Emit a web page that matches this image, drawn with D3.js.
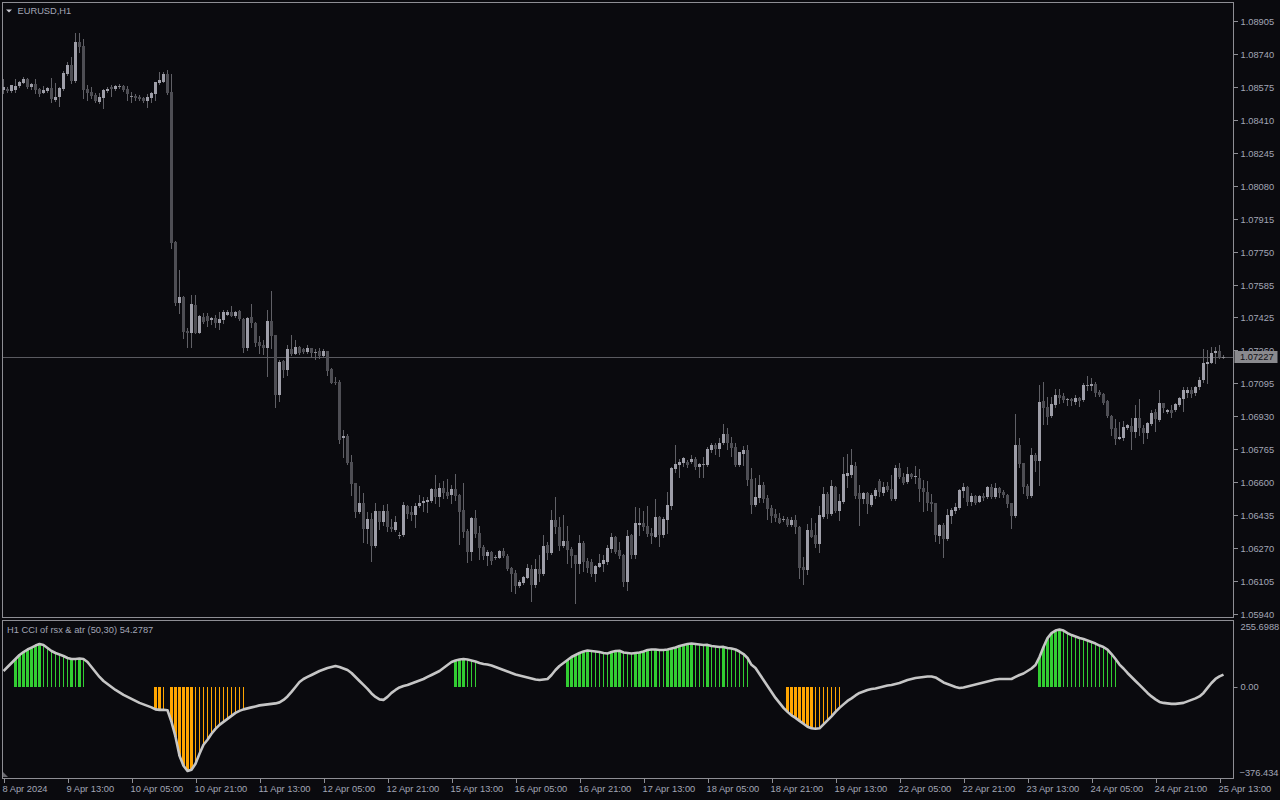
<!DOCTYPE html>
<html><head><meta charset="utf-8">
<script src="https://cdn.jsdelivr.net/npm/d3@7"></script>
<style>
html,body{margin:0;padding:0;background:#0a0a0e;overflow:hidden;}
svg{display:block;}
text{font-family:"Liberation Sans",Arial,sans-serif;font-size:9.3px;}
</style></head><body>
<svg id="c" width="1280" height="800"></svg>
<script>
// ---- EURUSD H1 candles (8 Apr 21:00 .. 25 Apr 14:00) ----
const open=[
1.08562,1.08567,1.08557,1.08562,1.08582,1.08597,1.08617,1.08577,1.08592,1.08567,
1.08547,1.08557,1.08572,1.08512,1.08527,1.08567,1.08642,1.08687,1.08607,1.08802,
1.08782,1.08567,1.08552,1.08537,1.08502,1.08522,1.08557,1.08577,1.08567,1.08582,
1.08582,1.08567,1.08532,1.08532,1.08527,1.08522,1.08507,1.08522,1.08542,1.08597,
1.08602,1.08642,1.08552,1.07802,1.07497,1.07527,1.07357,1.07347,1.07487,1.07347,
1.07427,1.07432,1.07412,1.07422,1.07397,1.07412,1.07437,1.07452,1.07432,1.07457,
1.07417,1.07272,1.07427,1.07397,1.07302,1.07287,1.07272,1.07407,1.07337,1.07037,
1.07207,1.07162,1.07267,1.07242,1.07277,1.07267,1.07252,1.07272,1.07252,1.07257,
1.07232,1.07257,1.07167,1.07102,1.07102,1.06822,1.06832,1.06702,1.06597,1.06452,
1.06497,1.06367,1.06417,1.06282,1.06457,1.06402,1.06457,1.06377,1.06362,1.06337,
1.06337,1.06482,1.06452,1.06437,1.06482,1.06497,1.06502,1.06507,1.06567,1.06527,
1.06572,1.06552,1.06537,1.06567,1.06537,1.06462,1.06357,1.06252,1.06422,1.06347,
1.06277,1.06232,1.06252,1.06227,1.06222,1.06257,1.06232,1.06172,1.06147,1.06082,
1.06097,1.06122,1.06167,1.06087,1.06167,1.06142,1.06287,1.06247,1.06412,1.06377,
1.06282,1.06307,1.06267,1.06237,1.06192,1.06297,1.06207,1.06202,1.06142,1.06177,
1.06192,1.06202,1.06267,1.06327,1.06262,1.06237,1.06102,1.06337,1.06237,1.06387,
1.06397,1.06382,1.06347,1.06327,1.06427,1.06337,1.06412,1.06482,1.06667,1.06687,
1.06697,1.06702,1.06702,1.06717,1.06677,1.06692,1.06687,1.06762,1.06787,1.06767,
1.06797,1.06842,1.06797,1.06777,1.06687,1.06742,1.06762,1.06617,1.06487,1.06522,
1.06587,1.06522,1.06472,1.06442,1.06422,1.06417,1.06417,1.06387,1.06412,1.06377,
1.06177,1.06162,1.06362,1.06337,1.06292,1.06427,1.06542,1.06442,1.06577,1.06457,
1.06502,1.06632,1.06637,1.06682,1.06547,1.06517,1.06547,1.06487,1.06532,1.06607,
1.06547,1.06582,1.06567,1.06517,1.06672,1.06627,1.06602,1.06642,1.06627,1.06622,
1.06572,1.06552,1.06502,1.06497,1.06332,1.06387,1.06317,1.06432,1.06457,1.06472,
1.06557,1.06577,1.06502,1.06532,1.06502,1.06532,1.06527,1.06577,1.06527,1.06572,
1.06552,1.06537,1.06497,1.06432,1.06787,1.06697,1.06582,1.06532,1.06737,1.06707,
1.07007,1.06977,1.06932,1.06987,1.07037,1.07032,1.07017,1.07017,1.07002,1.07022,
1.07012,1.07087,1.07082,1.07092,1.07052,1.07042,1.07007,1.06932,1.06872,1.06817,
1.06822,1.06872,1.06882,1.06852,1.06922,1.06872,1.06847,1.06892,1.06952,1.06912,
1.06997,1.06952,1.06962,1.06962,1.06987,1.07017,1.07047,1.07062,1.07047,1.07077,
1.07112,1.07192,1.07197,1.07247,1.07257,1.07227];
const high=[
1.08617,1.08577,1.08587,1.08617,1.08607,1.08627,1.08622,1.08597,1.08617,1.08572,
1.08582,1.08577,1.08622,1.08597,1.08577,1.08657,1.08702,1.08727,1.08847,1.08847,
1.08817,1.08587,1.08577,1.08547,1.08547,1.08567,1.08577,1.08587,1.08587,1.08592,
1.08587,1.08582,1.08552,1.08542,1.08537,1.08527,1.08542,1.08552,1.08602,1.08652,
1.08652,1.08662,1.08642,1.07807,1.07662,1.07532,1.07372,1.07537,1.07537,1.07437,
1.07447,1.07447,1.07427,1.07437,1.07452,1.07462,1.07462,1.07482,1.07457,1.07462,
1.07422,1.07427,1.07492,1.07402,1.07332,1.07312,1.07462,1.07557,1.07337,1.07212,
1.07212,1.07287,1.07337,1.07312,1.07282,1.07272,1.07287,1.07272,1.07267,1.07272,
1.07267,1.07257,1.07172,1.07127,1.07112,1.06862,1.06842,1.06737,1.06597,1.06582,
1.06547,1.06452,1.06447,1.06497,1.06457,1.06487,1.06492,1.06417,1.06432,1.06352,
1.06502,1.06487,1.06482,1.06497,1.06537,1.06527,1.06527,1.06572,1.06637,1.06597,
1.06607,1.06617,1.06587,1.06642,1.06542,1.06597,1.06367,1.06427,1.06462,1.06382,
1.06287,1.06262,1.06257,1.06237,1.06262,1.06272,1.06242,1.06177,1.06162,1.06112,
1.06132,1.06192,1.06187,1.06217,1.06237,1.06337,1.06302,1.06462,1.06527,1.06427,
1.06437,1.06382,1.06277,1.06237,1.06337,1.06307,1.06222,1.06217,1.06187,1.06242,
1.06237,1.06287,1.06347,1.06332,1.06302,1.06242,1.06362,1.06342,1.06477,1.06472,
1.06457,1.06482,1.06372,1.06517,1.06432,1.06427,1.06552,1.06677,1.06787,1.06717,
1.06727,1.06712,1.06737,1.06727,1.06697,1.06727,1.06777,1.06797,1.06797,1.06822,
1.06892,1.06872,1.06827,1.06797,1.06752,1.06782,1.06787,1.06672,1.06622,1.06637,
1.06602,1.06537,1.06487,1.06467,1.06447,1.06432,1.06427,1.06427,1.06437,1.06382,
1.06227,1.06392,1.06422,1.06397,1.06482,1.06577,1.06552,1.06612,1.06582,1.06542,
1.06727,1.06742,1.06767,1.06702,1.06587,1.06552,1.06552,1.06547,1.06572,1.06617,
1.06602,1.06602,1.06637,1.06687,1.06697,1.06647,1.06677,1.06647,1.06682,1.06667,
1.06612,1.06607,1.06542,1.06497,1.06392,1.06397,1.06467,1.06472,1.06497,1.06567,
1.06597,1.06582,1.06547,1.06537,1.06537,1.06547,1.06582,1.06592,1.06597,1.06577,
1.06562,1.06542,1.06497,1.06942,1.06822,1.06697,1.06592,1.06772,1.06747,1.07087,
1.07102,1.07027,1.07027,1.07067,1.07067,1.07047,1.07022,1.07022,1.07037,1.07027,
1.07097,1.07132,1.07122,1.07102,1.07062,1.07047,1.07012,1.06937,1.06917,1.06902,
1.06907,1.06892,1.06922,1.06987,1.07017,1.06887,1.06902,1.06962,1.06967,1.07062,
1.06997,1.06967,1.06987,1.06997,1.07027,1.07077,1.07077,1.07077,1.07082,1.07127,
1.07267,1.07262,1.07277,1.07277,1.07287,1.07237];
const low=[
1.08547,1.08552,1.08552,1.08552,1.08577,1.08597,1.08572,1.08567,1.08547,1.08532,
1.08547,1.08552,1.08502,1.08507,1.08482,1.08562,1.08637,1.08597,1.08602,1.08752,
1.08522,1.08512,1.08522,1.08502,1.08497,1.08472,1.08552,1.08532,1.08562,1.08572,
1.08557,1.08512,1.08502,1.08512,1.08512,1.08502,1.08477,1.08502,1.08512,1.08592,
1.08602,1.08542,1.07772,1.07487,1.07447,1.07322,1.07277,1.07277,1.07347,1.07347,
1.07397,1.07382,1.07392,1.07377,1.07367,1.07397,1.07437,1.07432,1.07427,1.07412,
1.07252,1.07262,1.07377,1.07282,1.07247,1.07242,1.07132,1.07272,1.06977,1.07007,
1.07127,1.07137,1.07237,1.07242,1.07242,1.07247,1.07247,1.07227,1.07217,1.07222,
1.07227,1.07137,1.07097,1.07092,1.06797,1.06727,1.06692,1.06537,1.06427,1.06447,
1.06302,1.06297,1.06207,1.06277,1.06367,1.06387,1.06357,1.06357,1.06357,1.06322,
1.06332,1.06422,1.06412,1.06377,1.06477,1.06457,1.06452,1.06502,1.06497,1.06482,
1.06522,1.06522,1.06497,1.06512,1.06292,1.06327,1.06202,1.06212,1.06327,1.06217,
1.06217,1.06187,1.06192,1.06217,1.06222,1.06227,1.06162,1.06057,1.06047,1.06077,
1.06092,1.06122,1.06007,1.06077,1.06107,1.06137,1.06217,1.06242,1.06347,1.06262,
1.06277,1.06197,1.06177,1.05997,1.06147,1.06157,1.06152,1.06132,1.06107,1.06177,
1.06157,1.06192,1.06252,1.06247,1.06222,1.06082,1.06062,1.06222,1.06222,1.06337,
1.06362,1.06332,1.06297,1.06327,1.06282,1.06327,1.06347,1.06467,1.06652,1.06627,
1.06682,1.06677,1.06697,1.06667,1.06627,1.06627,1.06682,1.06752,1.06742,1.06732,
1.06792,1.06767,1.06732,1.06682,1.06682,1.06687,1.06587,1.06447,1.06482,1.06502,
1.06502,1.06417,1.06402,1.06407,1.06397,1.06407,1.06382,1.06382,1.06347,1.06122,
1.06092,1.06142,1.06327,1.06277,1.06252,1.06422,1.06422,1.06437,1.06452,1.06412,
1.06497,1.06577,1.06627,1.06522,1.06387,1.06497,1.06447,1.06482,1.06522,1.06532,
1.06537,1.06557,1.06512,1.06512,1.06622,1.06592,1.06597,1.06622,1.06597,1.06507,
1.06457,1.06462,1.06457,1.06307,1.06297,1.06227,1.06312,1.06397,1.06447,1.06467,
1.06527,1.06487,1.06487,1.06492,1.06502,1.06512,1.06522,1.06522,1.06522,1.06527,
1.06527,1.06477,1.06372,1.06427,1.06677,1.06547,1.06522,1.06527,1.06657,1.06587,
1.06892,1.06892,1.06927,1.06977,1.06997,1.07002,1.06987,1.06987,1.06992,1.06982,
1.07007,1.07062,1.07062,1.07032,1.07032,1.06992,1.06927,1.06837,1.06792,1.06817,
1.06812,1.06867,1.06767,1.06827,1.06837,1.06797,1.06822,1.06887,1.06857,1.06907,
1.06952,1.06947,1.06927,1.06957,1.06982,1.06957,1.07027,1.07027,1.07037,1.07067,
1.07102,1.07097,1.07197,1.07197,1.07222,1.07222];
const close=[
1.08577,1.08557,1.08587,1.08582,1.08602,1.08617,1.08577,1.08592,1.08562,1.08542,
1.08562,1.08572,1.08517,1.08527,1.08572,1.08647,1.08687,1.08607,1.08802,1.08777,
1.08562,1.08547,1.08532,1.08507,1.08527,1.08562,1.08567,1.08567,1.08582,1.08582,
1.08562,1.08542,1.08532,1.08522,1.08517,1.08507,1.08527,1.08547,1.08602,1.08612,
1.08642,1.08547,1.07797,1.07497,1.07527,1.07352,1.07347,1.07492,1.07347,1.07432,
1.07402,1.07407,1.07422,1.07397,1.07417,1.07452,1.07452,1.07432,1.07452,1.07417,
1.07272,1.07422,1.07397,1.07297,1.07282,1.07272,1.07407,1.07332,1.07037,1.07202,
1.07162,1.07267,1.07242,1.07277,1.07247,1.07252,1.07272,1.07247,1.07252,1.07232,
1.07257,1.07157,1.07097,1.07097,1.06812,1.06832,1.06697,1.06592,1.06452,1.06497,
1.06367,1.06417,1.06282,1.06457,1.06402,1.06457,1.06377,1.06367,1.06402,1.06337,
1.06487,1.06442,1.06437,1.06482,1.06497,1.06507,1.06512,1.06567,1.06527,1.06572,
1.06547,1.06532,1.06567,1.06532,1.06452,1.06352,1.06252,1.06422,1.06342,1.06272,
1.06232,1.06252,1.06207,1.06227,1.06257,1.06232,1.06167,1.06142,1.06082,1.06102,
1.06127,1.06172,1.06087,1.06167,1.06142,1.06282,1.06247,1.06412,1.06377,1.06282,
1.06307,1.06262,1.06232,1.06192,1.06297,1.06202,1.06172,1.06142,1.06182,1.06197,
1.06212,1.06272,1.06327,1.06252,1.06232,1.06102,1.06332,1.06237,1.06397,1.06397,
1.06377,1.06342,1.06332,1.06427,1.06337,1.06417,1.06487,1.06672,1.06692,1.06702,
1.06722,1.06687,1.06717,1.06677,1.06692,1.06692,1.06767,1.06787,1.06767,1.06797,
1.06842,1.06797,1.06772,1.06687,1.06752,1.06762,1.06612,1.06487,1.06527,1.06587,
1.06517,1.06467,1.06432,1.06422,1.06397,1.06417,1.06387,1.06412,1.06377,1.06172,
1.06162,1.06362,1.06327,1.06292,1.06437,1.06542,1.06442,1.06582,1.06457,1.06507,
1.06642,1.06647,1.06687,1.06532,1.06517,1.06547,1.06492,1.06537,1.06562,1.06552,
1.06577,1.06562,1.06517,1.06672,1.06627,1.06597,1.06642,1.06627,1.06632,1.06567,
1.06552,1.06497,1.06492,1.06337,1.06387,1.06317,1.06437,1.06462,1.06477,1.06562,
1.06577,1.06502,1.06532,1.06497,1.06532,1.06522,1.06577,1.06527,1.06572,1.06547,
1.06537,1.06492,1.06432,1.06787,1.06692,1.06577,1.06532,1.06737,1.06707,1.07002,
1.06972,1.06927,1.06992,1.07037,1.07022,1.07012,1.07017,1.07007,1.07022,1.07007,
1.07087,1.07087,1.07092,1.07047,1.07037,1.06997,1.06932,1.06867,1.06817,1.06827,
1.06877,1.06887,1.06852,1.06922,1.06872,1.06847,1.06897,1.06947,1.06917,1.06997,
1.06972,1.06962,1.06947,1.06992,1.07022,1.07062,1.07062,1.07042,1.07077,1.07112,
1.07197,1.07202,1.07247,1.07257,1.07227,1.07227];

// ---- CCI of rsx & atr (50,30) ----
const cci=[
70.4,88.2,106.0,123.8,141.7,155.0,166.2,175.1,184.0,190.7,
186.2,172.8,159.5,150.6,143.9,137.2,128.3,123.8,123.8,126.1,
123.8,110.5,88.2,65.9,43.7,25.8,12.5,-0.9,-14.3,-25.4,
-36.5,-45.4,-54.3,-63.3,-72.2,-78.8,-85.5,-92.2,-101.1,-103.4,
-102.5,-105.0,-156.8,-223.6,-308.3,-352.8,-376.434,-370.6,-343.9,-299.4,
-259.3,-237.0,-210.3,-188.0,-170.2,-156.8,-143.4,-130.1,-116.7,-107.8,
-101.1,-96.7,-92.2,-87.8,-83.3,-81.1,-78.8,-76.6,-74.4,-69.9,
-58.8,-43.2,-23.2,-0.9,21.4,34.7,43.7,52.6,61.5,70.4,
77.1,83.7,88.2,92.7,88.2,81.5,74.8,61.5,43.7,25.8,
8.0,-9.8,-29.8,-45.4,-56.6,-58.8,-45.4,-27.6,-14.3,-3.1,
3.6,8.0,14.7,21.4,28.1,34.7,43.7,52.6,61.5,70.4,
83.7,97.1,110.5,117.2,121.6,123.8,121.6,117.2,112.7,106.0,
101.5,99.3,94.9,88.2,81.5,74.8,68.2,61.5,54.8,50.3,
45.9,41.4,37.0,32.5,30.3,32.5,34.7,52.6,74.8,92.7,
106.0,119.4,132.8,141.7,150.6,157.3,161.7,159.5,157.3,155.0,
150.6,148.3,155.0,159.5,160.5,152.8,150.6,148.3,150.6,152.8,
157.3,163.9,166.2,166.2,163.9,163.9,166.2,170.6,175.1,181.8,
186.2,190.7,192.9,190.7,188.4,186.2,187.0,181.8,179.5,177.3,
178.0,172.8,170.6,166.2,157.3,146.1,128.3,98.0,83.7,57.0,
30.3,3.6,-23.2,-49.9,-72.2,-94.4,-112.3,-127.9,-139.0,-152.4,
-165.7,-179.1,-185.8,-188.0,-185.8,-167.9,-150.1,-132.3,-112.3,-94.4,
-78.8,-63.3,-52.1,-38.8,-27.6,-20.9,-14.3,-9.8,-7.6,-3.1,
1.3,5.8,8.0,12.5,16.9,23.6,30.3,34.7,39.2,41.4,
43.7,45.9,45.9,41.4,30.3,19.2,12.5,5.8,-0.9,-5.3,
-3.1,1.3,5.8,10.2,14.7,19.2,23.6,28.1,32.5,34.7,
34.7,34.7,34.7,43.7,52.6,59.2,70.4,81.5,97.1,132.8,
177.3,217.4,239.7,250.8,255.6988,250.8,239.7,230.8,224.1,217.4,
212.9,206.3,199.6,192.9,184.0,177.3,166.2,146.1,123.8,99.0,
81.5,61.5,43.7,25.8,8.0,-9.8,-27.6,-43.2,-56.6,-67.7,
-72.2,-74.4,-76.6,-76.6,-74.4,-72.2,-65.5,-58.8,-52.1,-43.2,
-27.6,-5.3,16.9,34.7,46.0,54.2787];

// histogram runs: [firstBar, lastBar]
const upStrong=[[3,9],[17,17],[19,19],[113,115],[141,146],[152,154],[158,161],[163,163],[166,172],[176,176],[180,180],[259,264]];
const upWeak=[[10,16],[18,18],[20,20],[116,118],[147,151],[155,157],[162,162],[164,165],[173,175],[177,179],[181,186],[265,278]];
const dnStrong=[[38,39],[42,47],[196,202]];
const dnWeak=[[40,40],[48,60],[203,209]];

const priceTicks=[1.08905,1.08740,1.08575,1.08410,1.08245,1.08080,1.07915,1.07750,1.07585,1.07425,1.07260,1.07095,1.06930,1.06765,1.06600,1.06435,1.06270,1.06105,1.05940];
const timeTickBars=[0,16,32,48,64,80,96,112,128,144,160,176,192,208,224,240,256,272,288,304];
const timeTickLabels=["8 Apr 2024","9 Apr 13:00","10 Apr 05:00","10 Apr 21:00","11 Apr 13:00","12 Apr 05:00","12 Apr 21:00","15 Apr 13:00","16 Apr 05:00","16 Apr 21:00","17 Apr 13:00","18 Apr 05:00","18 Apr 21:00","19 Apr 13:00","22 Apr 05:00","22 Apr 21:00","23 Apr 13:00","24 Apr 05:00","24 Apr 21:00","25 Apr 13:00"];
const symbolTitle="EURUSD,H1";
const indTitle="H1 CCI of rsx & atr (50,30) 54.2787";
const lastPrice=1.07227;
const indMax=255.6988, indMin=-376.434;

// ---- layout / style ----
const BG="#0a0a0e", FRAME="#8e8e94", TXT="#a2a6b6";
const BULL="#9e9ea8", BEAR="#4e4e54", WICK="#606066";
const GREEN="#32cd32", ORANGE="#ffa500", LINE="#c6c6c6";
const L=2.5, R=1233.5, MT=2.5, MB=617.5, IT=620.5, IB=778.5;

const svg=d3.select("#c");
svg.append("rect").attr("width",1280).attr("height",800).attr("fill",BG);
const defs=svg.append("defs");
defs.append("clipPath").attr("id","cm").append("rect").attr("x",L+0.5).attr("y",MT+0.5).attr("width",R-L-1).attr("height",MB-MT-1);
defs.append("clipPath").attr("id","ci").append("rect").attr("x",L+0.5).attr("y",IT+0.5).attr("width",R-L-1).attr("height",IB-IT-1);

const n=close.length;
const x=d3.scaleLinear().domain([0,n-1]).range([3.5,3.5+4*(n-1)]);
const y=d3.scaleLinear().domain([1.05927,1.08997]).range([617,3]);
const yi=d3.scaleLinear().domain([indMin,indMax]).range([771,629.5]);

// current price line
svg.append("line").attr("x1",L).attr("x2",R).attr("y1",Math.round(y(lastPrice))+0.5).attr("y2",Math.round(y(lastPrice))+0.5)
  .attr("stroke","#5a5a60").attr("stroke-width",1);

// candles
const bars=d3.range(n).map(i=>({i,o:open[i],h:high[i],l:low[i],c:close[i]}));
const gc=svg.append("g").attr("clip-path","url(#cm)").attr("shape-rendering","crispEdges");
gc.selectAll("rect.w").data(bars).join("rect").attr("class","w")
  .attr("x",d=>Math.floor(x(d.i)))
  .attr("y",d=>Math.round(y(d.h)))
  .attr("width",1)
  .attr("height",d=>Math.max(1,Math.round(y(d.l))-Math.round(y(d.h))+1))
  .attr("fill",WICK);
gc.selectAll("rect.b").data(bars).join("rect").attr("class","b")
  .attr("x",d=>Math.floor(x(d.i))-1)
  .attr("y",d=>Math.round(y(Math.max(d.o,d.c))))
  .attr("width",3)
  .attr("height",d=>Math.max(1,Math.round(y(Math.min(d.o,d.c)))-Math.round(y(Math.max(d.o,d.c)))))
  .attr("fill",d=>d.c>d.o?BULL:(d.c<d.o?BEAR:"#8a8a90"));

// indicator histogram
function expand(runs,type){const a=[];runs.forEach(([s,e])=>{for(let i=s;i<=e;i++)a.push({i,type});});return a;}
const hist=[].concat(expand(upStrong,"us"),expand(upWeak,"uw"),expand(dnStrong,"ds"),expand(dnWeak,"dw"));
const gi=svg.append("g").attr("clip-path","url(#ci)");
const y0=yi(0);
gi.append("g").attr("shape-rendering","crispEdges").selectAll("rect").data(hist).join("rect")
  .attr("x",d=>d.type.endsWith("s")?Math.floor(x(d.i))-1:Math.floor(x(d.i)))
  .attr("width",d=>d.type.endsWith("s")?3:1)
  .attr("y",d=>Math.min(y0,yi(cci[d.i])))
  .attr("height",d=>Math.abs(yi(cci[d.i])-y0))
  .attr("fill",d=>d.type[0]==="u"?GREEN:ORANGE);
gi.append("path").datum(d3.range(n))
  .attr("d",d3.line().x(i=>x(i)).y(i=>yi(cci[i])))
  .attr("fill","none").attr("stroke",LINE).attr("stroke-width",2.6).attr("stroke-linejoin","round");

// frames
svg.append("rect").attr("x",L).attr("y",MT).attr("width",R-L).attr("height",MB-MT).attr("fill","none").attr("stroke",FRAME).attr("shape-rendering","crispEdges");
svg.append("rect").attr("x",L).attr("y",IT).attr("width",R-L).attr("height",IB-IT).attr("fill","none").attr("stroke",FRAME).attr("shape-rendering","crispEdges");

// price axis
const ay=svg.append("g").attr("transform",`translate(${R},0)`)
  .call(d3.axisRight(y).tickValues(priceTicks).tickFormat(d3.format(".5f")).tickSize(4).tickSizeOuter(0).tickPadding(3));
ay.select(".domain").remove();
ay.selectAll("line").attr("stroke",FRAME).attr("shape-rendering","crispEdges");
ay.selectAll("text").attr("fill",TXT).attr("font-family",null).attr("font-size",null);

// current price box
const py=y(lastPrice);
svg.append("rect").attr("x",R+1).attr("y",Math.round(py)-6).attr("width",43).attr("height",12).attr("fill","#8a8a8e");
svg.append("text").attr("x",R+6.5).attr("y",py).attr("dy","0.35em").attr("fill","#0e0e12").text(d3.format(".5f")(lastPrice));

// indicator axis labels
const ai=svg.append("g").attr("transform",`translate(${R},0)`);
ai.append("line").attr("x1",0).attr("x2",4).attr("y1",Math.round(y0)+0.5).attr("y2",Math.round(y0)+0.5).attr("stroke",FRAME);
ai.append("text").attr("x",7).attr("y",y0).attr("dy","0.35em").attr("fill",TXT).text("0.00");
ai.append("text").attr("x",7).attr("y",IT+6.5).attr("dy","0.35em").attr("fill",TXT).text(d3.format(".4f")(indMax));
ai.append("text").attr("x",6).attr("y",IB-5.5).attr("dy","0.35em").attr("fill",TXT).text(d3.format(".3f")(indMin));

// time axis
const xt=svg.append("g").attr("transform",`translate(0,${IB})`)
  .call(d3.axisBottom(x).tickValues(timeTickBars).tickFormat((d,k)=>timeTickLabels[k]).tickSize(4).tickSizeOuter(0).tickPadding(3));
xt.select(".domain").remove();
xt.selectAll("line").attr("stroke",FRAME).attr("shape-rendering","crispEdges");
xt.selectAll("text").attr("fill",TXT).attr("text-anchor","start").attr("dx","-1.5").attr("font-family",null).attr("font-size",null);
svg.append("line").attr("x1",R).attr("x2",R).attr("y1",IB).attr("y2",IB-4).attr("stroke",FRAME);

// titles
svg.append("path").attr("d","M6,9.5 L12,9.5 L9,12.5 Z").attr("fill","#c8c8d0");
svg.append("text").attr("x",17.5).attr("y",10.5).attr("dy","0.35em").attr("fill",TXT).text(symbolTitle);
svg.append("text").attr("x",7).attr("y",630).attr("dy","0.35em").attr("fill",TXT).text(indTitle);
svg.append("path").attr("d","M3,777 L3,772 L8,777 Z").attr("fill","#6a6a70");
</script>
</body></html>
